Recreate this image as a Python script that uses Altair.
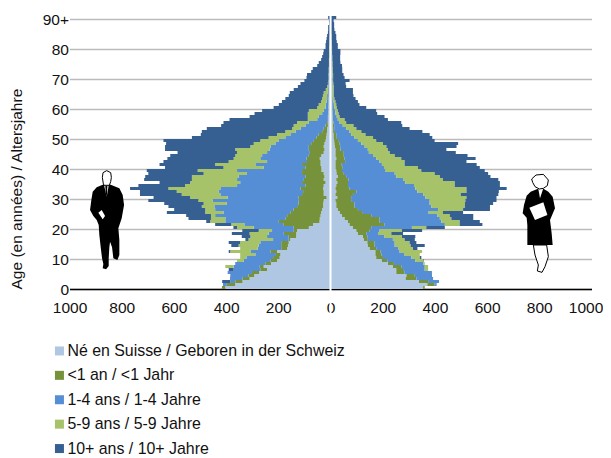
import altair as alt
import numpy as np
import pandas as pd

GROUPS = ["Né en Suisse / Geboren in der Schweiz", "<1 an / <1 Jahr", "1-4 ans / 1-4 Jahre",
          "5-9 ans / 5-9 Jahre", "10+ ans / 10+ Jahre"]
COLORS = ["#AFC7E2", "#76933C", "#558ED5", "#A6C36A", "#366092"]

# Running totals by age (0..90+): men, left side
m_swiss = [403,365,337,310,292,273,243,256,228,205, 195,192,205,166,163,160,154,132,131,128,
           83,67,42,41,38,36,32,28,28,26, 15,26,26,28,26,19,26,23,26,35,
           35,38,38,41,35,26,23,26,23,19, 17,15,13,13,10,10,9,9,8,8,
           8,7,7,7,6,6,6,6,5,5, 5,5,4,4,4,4,4,3,3,3, 3,3,3,2,2,2,2,2,1,1,1]
m_lt1 = [416,397,365,337,314,301,269,271,250,230, 220,209,230,189,189,189,160,160,179,141,
         141,179,198,173,166,154,141,128,122,122, 122,109,105,115,96,109,102,96,109,109,
         96,109,90,92,83,79,83,83,74,64, 54,45,32,26,19,13,10,10,9,9,
         9,8,8,8,7,7,7,7,6,6, 6,6,5,5,5,5,5,4,4,4, 4,4,4,3,3,3,3,3,2,2,2]
m_1_4 = [416,412,384,381,384,394,371,371,365,333, 322,288,307,279,275,269,220,243,237,224,
         294,330,403,403,442,410,442,445,397,451, 394,422,429,422,358,346,358,352,320,358,
         256,288,243,269,262,243,233,230,211,198, 173,154,134,115,96,83,51,45,32,26,
         19,18,15,13,13,10,10,9,9,8, 8,7,7,6,6,6,5,5,5,4, 4,4,3,3,3,3,3,3,2,2,2]
m_5_9 = [416,412,384,381,384,394,371,403,365,358, 346,346,384,346,352,346,314,307,310,275,
         358,380,461,458,458,480,480,493,486,506, 538,570,589,621,557,538,531,531,486,509,
         410,442,390,371,365,358,365,307,294,269, 237,205,173,147,141,128,87,87,87,83,
         51,45,36,32,29,26,18,13,10,9, 8,8,7,7,6,6,6,5,5,5, 5,4,4,4,3,3,3,2,2,2,2]
m_10p = [416,412,415,384,384,394,390,403,365,358, 346,346,390,346,380,390,326,340,378,338,
         372,442,476,544,553,627,599,621,637,698, 678,730,730,768,736,655,714,710,698,704,
         634,655,640,625,614,586,634,634,630,640, 531,497,493,474,419,410,387,310,291,262,
         218,198,186,173,160,156,141,125,115,100, 92,90,74,68,51,45,36,32,28,26,
         19,19,17,15,13,10,9,9,5,6,9]

# Running totals by age: women, right side
f_swiss = [355,371,339,288,291,252,252,239,220,197, 175,172,172,150,143,141,128,124,105,99,
           86,73,67,54,44,36,28,22,22,19, 26,19,22,19,22,26,22,28,23,22,
           19,19,19,22,19,19,19,17,15,14, 12,12,10,10,9,9,8,8,7,7,
           6,6,6,5,5,5,5,5,4,4, 4,4,4,3,3,3,3,3,3,3, 2,2,2,2,2,2,2,1,1,1,1]
f_lt1 = [361,399,374,329,323,284,278,271,243,218, 201,195,192,175,169,169,143,141,137,150,
         156,207,188,188,156,124,105,92,92,79, 79,86,99,73,67,67,69,60,51,44,
         47,41,56,54,51,51,38,37,35,32, 24,22,17,14,14,12,9,9,8,8,
         8,7,7,7,6,6,6,6,5,5, 5,5,5,4,4,4,4,4,4,4, 3,3,3,3,3,3,3,2,2,2,2]
f_1_4 = [361,403,416,393,389,387,361,361,355,325, 310,284,265,261,246,246,239,207,182,188,
         312,438,425,419,410,376,412,387,380,380, 364,355,333,325,320,287,278,252,246,211,
         205,197,188,175,163,147,143,131,118,105, 92,79,73,60,47,35,28,24,19,18,
         15,13,12,9,8,8,8,8,8,8, 8,7,7,7,6,6,6,6,5,5, 5,4,4,4,3,3,3,3,3,3,3]
f_5_9 = [361,403,416,393,389,387,374,374,361,355, 342,342,351,316,307,303,284,274,233,274,
         367,495,495,463,457,431,508,515,515,517, 521,499,521,521,476,476,431,419,399,348,
         335,284,284,271,246,227,220,214,201,175, 163,134,118,99,88,60,54,35,31,28,
         24,22,19,15,13,13,13,13,11,10, 10,10,9,9,8,8,7,7,6,6, 6,5,5,4,4,3,3,3,3,3,3]
f_10p = [361,406,416,393,389,389,374,374,361,357, 348,342,351,333,361,329,323,325,278,351,
         438,582,572,547,547,508,611,611,623,636, 636,643,645,675,649,649,643,613,604,591,
         572,560,521,556,525,480,444,483,489,399, 390,380,352,303,275,271,220,207,179,175,
         137,111,105,96,88,86,86,60,58,73, 54,50,45,45,44,38,37,37,38,38,
         28,28,24,22,22,19,15,14,14,12,22]

X_TICKS = [-1000, -800, -600, -400, -200, 0, 200, 400, 600, 800, 1000]
Y_TICKS = list(range(0, 100, 10))


def side_rows(series, sign):
    arr = np.maximum.accumulate(np.array(series, dtype=float), axis=0)
    rows = []
    for age in range(arr.shape[1]):
        prev = 0.0
        for g, name in enumerate(GROUPS):
            cur = arr[g, age]
            if cur > prev:
                rows.append({"age": age, "top": age + 1, "x0": sign * prev, "x1": sign * cur,
                             "group": name})
            prev = cur
    return rows


rows = side_rows([m_swiss, m_lt1, m_1_4, m_5_9, m_10p], -1) + side_rows([f_swiss, f_lt1, f_1_4, f_5_9, f_10p], 1)
df = pd.DataFrame(rows)

W, H = 522, 273
FONT = "Liberation Sans"

bars = alt.Chart(df).mark_bar(stroke=None, clip=False).encode(
    x=alt.X("x0:Q", scale=alt.Scale(domain=[-1000, 1000], nice=False),
            axis=alt.Axis(values=X_TICKS, labelExpr="'' + abs(datum.value)", title=None, grid=False,
                          tickSize=0, labelPadding=11, domainColor="#000000", domainWidth=1.5,
                          labelFlush=False, labelOverlap=False,
                          labelOffset={"condition": {"test": "datum.value == 1000", "value": -6}, "value": 0},
                          labelFontSize=15.5, labelColor="#111111", labelFont=FONT)),
    x2="x1:Q",
    y=alt.Y("age:Q", scale=alt.Scale(domain=[0, 91], nice=False),
            axis=alt.Axis(values=Y_TICKS, labelExpr="datum.value == 90 ? '90+' : '' + datum.value",
                          title="Age (en années) / Altersjahre", titleAnchor="start", titleFontWeight="normal",
                          titleFontSize=15.5, titleColor="#111111", titleFont=FONT, titlePadding=18,
                          grid=True, gridColor="#BBBBBB", gridWidth=1.5, domain=False, tickSize=0,
                          labelFlush=False, labelOverlap=False,
                          labelPadding=1, labelFontSize=15.5, labelColor="#111111", labelFont=FONT)),
    y2="top:Q",
    color=alt.Color("group:N", scale=alt.Scale(domain=GROUPS, range=COLORS),
                    legend=alt.Legend(title=None, orient="none", legendX=-18, legendY=327,
                                      symbolType="square", symbolSize=81, symbolStrokeWidth=0,
                                      labelFontSize=15.9, labelFont=FONT, labelColor="#111111",
                                      labelLimit=400, labelOffset=0, rowPadding=7.4,
                                      padding=0, values=GROUPS)),
)

one = pd.DataFrame({"a": [0]})
centre = alt.Chart(one).mark_rule(color="white", strokeWidth=2, clip=False).encode(
    x=alt.value(W / 2), y=alt.value(0), y2=alt.value(H + 26))

# Silhouettes, outlines in a 300-unit box centred on the figure
man_body = [(68,74),(50,82),(38,95),(34,120),(30,150),(40,168),(50,180),(56,195),(58,225),(62,262),(66,295),
            (70,312),(68,325),(78,328),(86,318),(86,295),(88,262),(90,245),(96,262),(100,295),(112,300),
            (118,285),(118,240),(115,205),(125,175),(132,135),(128,105),(118,85),(92,74)]
man_shirt = [(72,76),(86,76),(80,110)]
man_tie = [(76,78),(82,78),(81,100),(79,112),(77,100)]
man_hand = [(55,158),(65,150),(75,168),(68,178)]
man_head = [(70,72),(67,52),(69,38),(80,32),(92,38),(94,52),(92,65),(88,76),(72,76)]
wom_body = [(82,72),(62,80),(50,92),(42,120),(38,145),(50,158),(52,180),(52,240),(128,240),(125,205),
            (120,165),(135,130),(128,95),(115,80),(98,70)]
wom_legs = [(70,240),(75,270),(85,300),(82,318),(96,322),(105,305),(115,275),(110,240)]
wom_paper = [(58,128),(100,112),(112,150),(75,165)]
wom_shirt = [(85,72),(100,70),(90,100)]
wom_head = [(68,52),(65,42),(78,30),(100,28),(115,45),(112,62),(100,70),(88,72),(75,65)]


def shape(points, cx, cy):
    pts = [f"{(x - cx) / 150:.3f},{(y - cy) / 150:.3f}" for x, y in points]
    return "M" + "L".join(pts) + "Z"


def figure(parts, cx, cy, px, py):
    out = []
    for points, fill, stroke in parts:
        kw = {"stroke": "#000000", "strokeWidth": 1} if stroke else {"strokeWidth": 0}
        out.append(alt.Chart(one).mark_point(shape=shape(points, cx, cy), size=10000, filled=True,
                                             fill=fill, opacity=1, **kw).encode(
            x=alt.value(px - 69.5), y=alt.value(py - 16)))
    return out


man = figure([(man_body, "#000000", False), (man_shirt, "#FFFFFF", False), (man_tie, "#000000", False),
              (man_hand, "#FFFFFF", False), (man_head, "#FFFFFF", True)], 80, 175, 106.7, 218.3)
woman = figure([(wom_legs, "#FFFFFF", True), (wom_body, "#000000", False), (wom_shirt, "#FFFFFF", False),
                (wom_paper, "#FFFFFF", False), (wom_head, "#FFFFFF", True)], 90, 165, 540, 220)

chart = alt.layer(bars, centre, *man, *woman).properties(
    width=W, height=H,
    padding={"left": 61.5, "top": 8, "right": 11.5, "bottom": 168},
    autosize=alt.AutoSizeParams(type="none"),
).configure_view(stroke=None).configure_axis(labelFontWeight="normal")

chart.save("out.html", embed_options={"renderer": "svg", "actions": False})
